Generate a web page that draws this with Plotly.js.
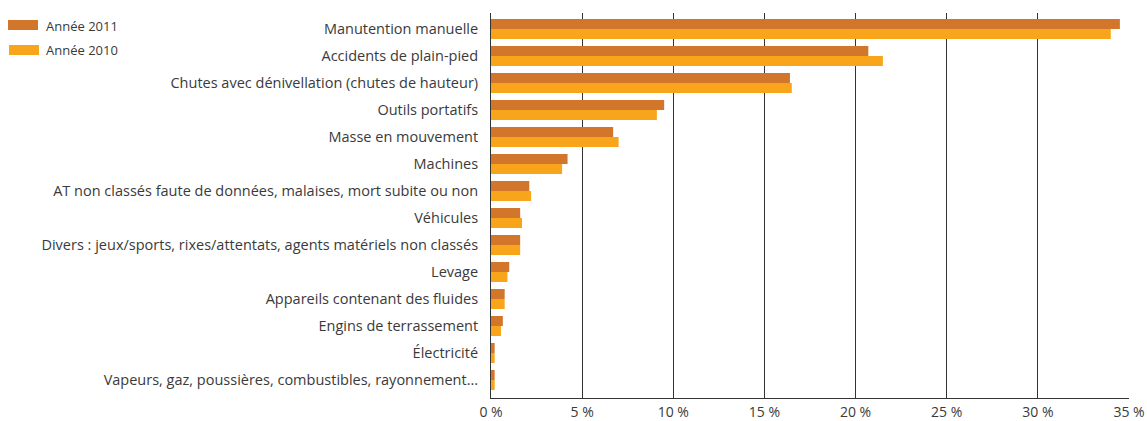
<!DOCTYPE html>
<html>
<head>
<meta charset="utf-8">
<script src="https://cdn.plot.ly/plotly-3.0.1.min.js"></script>
<style>html,body{margin:0;padding:0;background:#fff;}#chart{width:1147px;height:421px;}</style>
</head>
<body>
<div id="chart"></div>
<script>
const categories = [
  "Manutention manuelle",
  "Accidents de plain-pied",
  "Chutes avec dénivellation (chutes de hauteur)",
  "Outils portatifs",
  "Masse en mouvement",
  "Machines",
  "AT non classés faute de données, malaises, mort subite ou non",
  "Véhicules",
  "Divers : jeux/sports, rixes/attentats, agents matériels non classés",
  "Levage",
  "Appareils contenant des fluides",
  "Engins de terrassement",
  "Électricité",
  "Vapeurs, gaz, poussières, combustibles, rayonnement..."
];
const values2011 = [34.5, 20.7, 16.4, 9.5, 6.7, 4.2, 2.1, 1.6, 1.6, 1.0, 0.75, 0.65, 0.2, 0.2];
const values2010 = [34.0, 21.5, 16.5, 9.1, 7.0, 3.9, 2.2, 1.7, 1.6, 0.9, 0.75, 0.55, 0.2, 0.2];
const seriesNames = ["Année 2011", "Année 2010"];
const tickValues = [0, 5, 10, 15, 20, 25, 30, 35];
const tickLabels = ["0 %", "5 %", "10 %", "15 %", "20 %", "25 %", "30 %", "35 %"];

const c2011 = "#D2762B", c2010 = "#F8A51C";
const fontFam = "'Open Sans', 'Noto Sans', sans-serif";

const traces = [
  {type: "bar", orientation: "h", name: seriesNames[0], y: categories, x: values2011,
   marker: {color: c2011}, hoverinfo: "x+y"},
  {type: "bar", orientation: "h", name: seriesNames[1], y: categories, x: values2010,
   marker: {color: c2010}, hoverinfo: "x+y"}
];

const layout = {
  width: 1147, height: 421,
  margin: {l: 491, r: 18, t: 13, b: 23, pad: 0},
  paper_bgcolor: "#fff", plot_bgcolor: "#fff",
  barmode: "group", bargap: 0.26, bargroupgap: 0,
  showlegend: false,
  font: {family: fontFam, size: 14.5, color: "#3a3a3a"},
  xaxis: {
    range: [0, 35], tickvals: tickValues, ticktext: tickLabels,
    showgrid: true, gridcolor: "#333", gridwidth: 1,
    showline: true, linecolor: "#333", linewidth: 1,
    zeroline: false, ticks: "", fixedrange: true, ticklabelstandoff: 1,
    tickfont: {family: fontFam, size: 14, color: "#3a3a3a"}
  },
  yaxis: {
    type: "category", categoryorder: "array", categoryarray: categories,
    range: [13.667, -0.593],
    showgrid: false, showline: true, linecolor: "#333", linewidth: 1,
    zeroline: false, ticks: "", ticklen: 0, automargin: false, fixedrange: true,
    ticklabelstandoff: 9,
    tickfont: {family: fontFam, size: 14.5, color: "#3a3a3a"}
  },
  shapes: [],
  annotations: []
};

// legend drawn in pixel-derived paper coordinates
const W = 1147 - 491 - 18, H = 421 - 13 - 23;
function px(x) { return (x - 491) / W; }
function py(y) { return (421 - 23 - y) / H; }
const legendItems = [
  {name: seriesNames[0], color: c2011, x0: 8, y0: 20, ty: 26},
  {name: seriesNames[1], color: c2010, x0: 9, y0: 45, ty: 50}
];
layout.shapes = legendItems.map(it => ({
  type: "rect", xref: "paper", yref: "paper",
  x0: px(it.x0), x1: px(it.x0 + 30), y0: py(it.y0 + 10), y1: py(it.y0),
  fillcolor: it.color, line: {width: 0}
}));
layout.annotations = legendItems.map(it => ({
  xref: "paper", yref: "paper", x: px(44), y: py(it.ty),
  xanchor: "left", yanchor: "middle", showarrow: false,
  text: it.name, font: {family: fontFam, size: 13, color: "#3a3a3a"}
}));

Plotly.newPlot("chart", traces, layout, {displayModeBar: false, staticPlot: true});
</script>
</body>
</html>
